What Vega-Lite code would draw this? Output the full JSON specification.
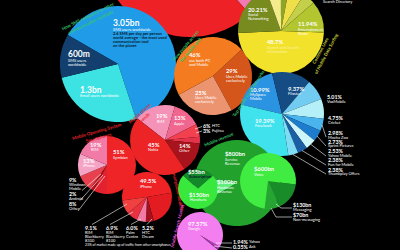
{
"$schema":"https://vega.github.io/schema/vega-lite/v6.json",
"width":400,"height":250,"padding":0,"autosize":"none","background":"#000000",
"config":{"view":{"stroke":null}},
"datasets":{
"pies":[
{"p":"top","cx":190,"cy":-52},{"p":"sms","cx":118,"cy":64},{"p":"orange","cx":213,"cy":76},{"p":"yellow","cx":281,"cy":31},
{"p":"cyan","cx":282,"cy":114},{"p":"brands","cx":165,"cy":140},{"p":"os","cx":107,"cy":165},{"p":"models","cx":147,"cy":197},
{"p":"green","cx":237,"cy":183},{"p":"small","cx":198,"cy":189},{"p":"voice","cx":268,"cy":181},{"p":"search","cx":200,"cy":235}],
"slices":[
{"p":"top","k":"top_pink","v":13.3,"o":1},{"p":"top","k":"top_red","v":86.7,"o":2},
{"p":"sms","k":"sms_sms","v":3.05,"o":1},{"p":"sms","k":"sms_email","v":1.3,"o":2},{"p":"sms","k":"sms_im","v":0.6,"o":3},
{"p":"orange","k":"or_mob","v":29,"o":1},{"p":"orange","k":"or_pc","v":25,"o":2},{"p":"orange","k":"or_both","v":46,"o":3},
{"p":"yellow","k":"ye_search","v":48.7,"o":1},{"p":"yellow","k":"ye_social","v":20.21,"o":2},{"p":"yellow","k":"ye_p1","v":5.5,"o":3},{"p":"yellow","k":"ye_p2","v":3.0,"o":4},{"p":"yellow","k":"ye_p3","v":6.0,"o":5},{"p":"yellow","k":"ye_p4","v":4.65,"o":6},{"p":"yellow","k":"ye_ent","v":11.94,"o":7},
{"p":"cyan","k":"cy_mys","v":10.99,"o":1},{"p":"cyan","k":"cy_fl","v":9.37,"o":2},{"p":"cyan","k":"cy_1","v":5.01,"o":3},{"p":"cyan","k":"cy_2","v":4.75,"o":4},{"p":"cyan","k":"cy_3","v":2.98,"o":5},{"p":"cyan","k":"cy_4","v":2.73,"o":6},{"p":"cyan","k":"cy_5","v":2.53,"o":7},{"p":"cyan","k":"cy_6","v":2.38,"o":8},{"p":"cyan","k":"cy_7","v":2.38,"o":9},{"p":"cyan","k":"cy_fb","v":19.39,"o":10},
{"p":"brands","k":"br_rim","v":19,"o":1},{"p":"brands","k":"br_apple","v":13,"o":2},{"p":"brands","k":"br_htc","v":6,"o":3},{"p":"brands","k":"br_fuj","v":3,"o":4},{"p":"brands","k":"br_oth","v":14,"o":5},{"p":"brands","k":"br_nok","v":45,"o":6},
{"p":"os","k":"os_sym","v":51,"o":1},{"p":"os","k":"os_oth","v":8,"o":2},{"p":"os","k":"os_and","v":2,"o":3},{"p":"os","k":"os_wm","v":9,"o":4},{"p":"os","k":"os_iph","v":13,"o":5},{"p":"os","k":"os_rim","v":19,"o":6},
{"p":"models","k":"md_iph","v":49.5,"o":1},{"p":"models","k":"md_oth","v":23.3,"o":2},{"p":"models","k":"md_htc","v":5.2,"o":3},{"p":"models","k":"md_palm","v":6.0,"o":4},{"p":"models","k":"md_8100","v":6.9,"o":5},{"p":"models","k":"md_8300","v":9.1,"o":6},
{"p":"green","k":"gr_hw","v":100,"o":1},{"p":"green","k":"gr_serv","v":800,"o":2},
{"p":"small","k":"sg_a","v":55,"o":1},{"p":"small","k":"sg_b","v":150,"o":2},
{"p":"voice","k":"vo_msg","v":130,"o":1},{"p":"voice","k":"vo_non","v":70,"o":2},{"p":"voice","k":"vo_voice","v":600,"o":3},
{"p":"search","k":"se_y","v":1.94,"o":1},{"p":"search","k":"se_a","v":0.35,"o":2},{"p":"search","k":"se_o","v":0.14,"o":3},{"p":"search","k":"se_g","v":97.57,"o":4}],
"labels":[
{"x":113,"y":23,"t":"3.05bn","s":"b"},{"x":113,"y":29.5,"t":"SMS users worldwide","s":"d"},
{"x":113,"y":33.7,"t":"2.6 SMS per day per person","s":"k"},{"x":113,"y":37.7,"t":"world average - the most used","s":"k"},{"x":113,"y":41.7,"t":"communication tool","s":"k"},{"x":113,"y":45.7,"t":"on the planet","s":"k"},
{"x":68,"y":53.5,"t":"600m","s":"b"},{"x":68,"y":60.5,"t":"SMS users","s":"d"},{"x":68,"y":64.5,"t":"worldwide","s":"d"},
{"x":80,"y":89.5,"t":"1.3bn","s":"b"},{"x":80,"y":96.3,"t":"Email users worldwide","s":"d"},
{"x":189,"y":55,"t":"46%","s":"n"},{"x":189,"y":60.6,"t":"use both PC","s":"d"},{"x":189,"y":64.6,"t":"and Mobile","s":"d"},
{"x":226,"y":71,"t":"29%","s":"n"},{"x":226,"y":76.6,"t":"Uses Mobile","s":"d"},{"x":226,"y":80.6,"t":"exclusively","s":"d"},
{"x":195,"y":92.5,"t":"25%","s":"n"},{"x":195,"y":98.1,"t":"Uses Mobile","s":"d"},{"x":195,"y":102.1,"t":"exclusively","s":"d"},
{"x":248,"y":9.5,"t":"20.21%","s":"n"},{"x":248,"y":15.1,"t":"Social","s":"d"},{"x":248,"y":19,"t":"Networking","s":"d"},
{"x":298,"y":24,"t":"11.94%","s":"n"},{"x":298,"y":29.6,"t":"Entertainment","s":"d"},{"x":298,"y":33.5,"t":"News","s":"d"},
{"x":267,"y":42,"t":"48.7%","s":"n"},{"x":267,"y":47.6,"t":"Search and Search","s":"y"},{"x":267,"y":51.5,"t":"Information","s":"y"},
{"x":323,"y":2,"t":"Search Directory","s":"d"},
{"x":250,"y":89.8,"t":"10.99%","s":"n"},{"x":250,"y":95.4,"t":"MySpace","s":"d"},{"x":250,"y":99.3,"t":"Mobile","s":"d"},
{"x":288,"y":88.5,"t":"9.37%","s":"n"},{"x":288,"y":94.1,"t":"Flixster","s":"d"},
{"x":255,"y":120.5,"t":"19.39%","s":"n"},{"x":255,"y":126.1,"t":"Facebook","s":"d"},
{"x":327,"y":96.5,"t":"5.01%","s":"l"},{"x":327,"y":101.6,"t":"VoxMobile","s":"d"},
{"x":328,"y":117.5,"t":"4.75%","s":"l"},{"x":328,"y":122.6,"t":"Cricket","s":"d"},
{"x":328,"y":132.6,"t":"2.98%","s":"l"},{"x":328,"y":137.5,"t":"Mocha Zoo","s":"d"},
{"x":328,"y":141.5,"t":"2.73%","s":"l"},{"x":328,"y":146.4,"t":"Sprint Pictures","s":"d"},
{"x":328,"y":151,"t":"2.53%","s":"l"},{"x":328,"y":155.9,"t":"Yahoo Mobile","s":"d"},
{"x":328,"y":160.3,"t":"2.38%","s":"l"},{"x":328,"y":165.2,"t":"Fun for Mobile","s":"d"},
{"x":328,"y":169.5,"t":"2.38%","s":"l"},{"x":328,"y":174.4,"t":"Thumbplay Offers","s":"d"},
{"x":156,"y":116.2,"t":"19%","s":"n"},{"x":157,"y":121.8,"t":"RIM","s":"d"},
{"x":174,"y":118,"t":"13%","s":"n"},{"x":174,"y":123.6,"t":"Apple","s":"d"},
{"x":203,"y":126,"t":"6%","s":"l"},{"x":212,"y":126,"t":"HTC","s":"d"},
{"x":203,"y":131,"t":"3%","s":"l"},{"x":212,"y":131,"t":"Fujitsu","s":"d"},
{"x":179,"y":145.5,"t":"14%","s":"n"},{"x":179,"y":151.1,"t":"Other","s":"d"},
{"x":148,"y":144.5,"t":"45%","s":"n"},{"x":148,"y":150.1,"t":"Nokia","s":"d"},
{"x":90,"y":144.8,"t":"19%","s":"n"},{"x":91,"y":150.4,"t":"RIM","s":"d"},
{"x":83,"y":160.8,"t":"13%","s":"n"},{"x":83,"y":166.4,"t":"iPhone","s":"d"},
{"x":113,"y":152.2,"t":"51%","s":"n"},{"x":113,"y":157.8,"t":"Symbian","s":"d"},
{"x":69,"y":179.5,"t":"9%","s":"l"},{"x":69,"y":184.6,"t":"Windows","s":"d"},{"x":69,"y":188.6,"t":"Mobile","s":"d"},
{"x":69,"y":193.8,"t":"2%","s":"l"},{"x":69,"y":198.9,"t":"Android","s":"d"},
{"x":69,"y":204,"t":"8%","s":"l"},{"x":69,"y":209.1,"t":"Other","s":"d"},
{"x":140,"y":181,"t":"49.5%","s":"n"},{"x":140,"y":186.6,"t":"iPhone","s":"d"},
{"x":85,"y":227.5,"t":"9.1%","s":"l"},{"x":85,"y":232.7,"t":"RIM","s":"d"},{"x":85,"y":236.7,"t":"Blackberry","s":"d"},{"x":85,"y":240.7,"t":"8300","s":"d"},
{"x":106,"y":227.5,"t":"6.9%","s":"l"},{"x":106,"y":232.7,"t":"RIM","s":"d"},{"x":106,"y":236.7,"t":"Blackberry","s":"d"},{"x":106,"y":240.7,"t":"8100","s":"d"},
{"x":126,"y":227.5,"t":"6.0%","s":"l"},{"x":126,"y":232.7,"t":"Palm","s":"d"},{"x":126,"y":236.7,"t":"Centro","s":"d"},
{"x":142,"y":227.5,"t":"5.2%","s":"l"},{"x":142,"y":232.7,"t":"HTC","s":"d"},{"x":142,"y":236.7,"t":"Dream","s":"d"},
{"x":85,"y":245.3,"t":"23% of market made up of traffic from other smartphones","s":"f"},
{"x":225,"y":154,"t":"$800bn","s":"n"},{"x":225,"y":159.6,"t":"Service","s":"d"},{"x":225,"y":163.5,"t":"Revenue","s":"d"},
{"x":217,"y":182,"t":"$100bn","s":"n"},{"x":217,"y":187.6,"t":"Hardware","s":"d"},{"x":217,"y":191.5,"t":"Revenue","s":"d"},
{"x":188,"y":171.5,"t":"$55bn","s":"n"},{"x":189,"y":177.1,"t":"Subscription","s":"k"},
{"x":189,"y":194.5,"t":"$150bn","s":"n"},{"x":190,"y":200.1,"t":"Handsets","s":"d"},
{"x":254,"y":169,"t":"$600bn","s":"n"},{"x":254,"y":174.6,"t":"Voice","s":"d"},
{"x":293,"y":204.5,"t":"$130bn","s":"l"},{"x":293,"y":209.6,"t":"Messaging","s":"d"},
{"x":293,"y":215,"t":"$70bn","s":"l"},{"x":293,"y":220.1,"t":"Non-messaging","s":"d"},
{"x":188,"y":223.8,"t":"97.57%","s":"n"},{"x":188,"y":229.4,"t":"Google","s":"d"},
{"x":233,"y":242.3,"t":"1.94%","s":"l"},{"x":249,"y":242.3,"t":"Yahoo","s":"d"},
{"x":233,"y":247.3,"t":"0.35%","s":"l"},{"x":249,"y":247.3,"t":"Ask","s":"d"}],
"lines":[
{"x":195,"y":129,"x2":202,"y2":126.5},{"x":196,"y":133,"x2":202,"y2":131},
{"x":82,"y":190.5,"x2":101,"y2":174},{"x":80,"y":200.5,"x2":103,"y2":175},{"x":78,"y":211,"x2":105,"y2":176},
{"x":92,"y":224.5,"x2":127,"y2":204},{"x":110,"y":224.5,"x2":133,"y2":212},{"x":131,"y":224.5,"x2":141,"y2":219},{"x":147,"y":224.5,"x2":152,"y2":219},
{"x":322,"y":125,"x2":326,"y2":137},{"x":317,"y":136,"x2":326,"y2":146},{"x":311,"y":144.5,"x2":326,"y2":156},{"x":302,"y":150.5,"x2":326,"y2":165},{"x":293,"y":154.5,"x2":326,"y2":174},
{"x":276,"y":204,"x2":281,"y2":208},{"x":281,"y":208,"x2":292,"y2":208},{"x":271,"y":208,"x2":276,"y2":217},{"x":276,"y":217,"x2":292,"y2":217},
{"x":216,"y":243,"x2":232,"y2":243},{"x":214,"y":246,"x2":232,"y2":248}]
},
"resolve":{"scale":{"theta":"independent"}},
"layer":[
{"data":{"name":"slices"},"transform":[{"filter":"datum.p==='top'"},{"lookup":"p","from":{"data":{"name":"pies"},"key":"p","fields":["cx","cy"]}}],
 "mark":{"type":"arc","radius":89},
 "encoding":{"x":{"field":"cx","type":"quantitative","scale":{"domain":[0,400],"nice":false,"zero":false},"axis":null},"y":{"field":"cy","type":"quantitative","scale":{"domain":[0,250],"nice":false,"zero":false,"reverse":true},"axis":null},
 "theta":{"field":"v","type":"quantitative","stack":true,"scale":{"range":[1.571,7.854]}},"order":{"field":"o","type":"quantitative"},
 "color":{"field":"k","type":"nominal","legend":null,"scale":{
 "domain":["top_pink","top_red","sms_sms","sms_email","sms_im","or_mob","or_pc","or_both","ye_search","ye_social","ye_p1","ye_p2","ye_p3","ye_p4","ye_ent","cy_mys","cy_fl","cy_1","cy_2","cy_3","cy_4","cy_5","cy_6","cy_7","cy_fb","br_rim","br_apple","br_htc","br_fuj","br_oth","br_nok","os_sym","os_oth","os_and","os_wm","os_iph","os_rim","md_iph","md_oth","md_htc","md_palm","md_8100","md_8300","gr_hw","gr_serv","sg_a","sg_b","vo_msg","vo_non","vo_voice","se_y","se_a","se_o","se_g"],
 "range":["#f27ab4","#ee2226","#1f9be8","#3de3e3","#123f6e","#d5561b","#ec9470","#f47b20","#f3e22b","#778b1f","#f4ec8c","#8fa526","#efe04a","#c4cf4a","#b3c62f","#2a93e2","#154c84","#72ccf2","#b5f0f8","#4ab4ec","#1e7ccf","#cdf6fb","#1a5ea6","#80dcf2","#40e2ee","#f592b7","#f0668f","#f2404f","#e5334a","#a9131c","#ec2426","#ee2427","#e2222e","#b5121e","#e9404e","#f5a3c5","#f27aa6","#ef2326","#e31c22","#a5111c","#f27ba6","#e8323f","#f04040","#62ee7e","#22a22c","#14892a","#38e83c","#188c28","#26a532","#41ec42","#b93cc0","#7a2a8a","#f27ef0","#f27ef0"]}}}},
{"data":{"name":"slices"},"transform":[{"filter":"datum.p==='sms'"},{"lookup":"p","from":{"data":{"name":"pies"},"key":"p","fields":["cx","cy"]}}],
 "mark":{"type":"arc","radius":58},
 "encoding":{"x":{"field":"cx","type":"quantitative","axis":null},"y":{"field":"cy","type":"quantitative","axis":null},
 "theta":{"field":"v","type":"quantitative","stack":true,"scale":{"range":[-1.047,5.236]}},"order":{"field":"o","type":"quantitative"},"color":{"field":"k","type":"nominal","legend":null}}},
{"data":{"name":"slices"},"transform":[{"filter":"datum.p==='orange'"},{"lookup":"p","from":{"data":{"name":"pies"},"key":"p","fields":["cx","cy"]}}],
 "mark":{"type":"arc","radius":39},
 "encoding":{"x":{"field":"cx","type":"quantitative","axis":null},"y":{"field":"cy","type":"quantitative","axis":null},
 "theta":{"field":"v","type":"quantitative","stack":true,"scale":{"range":[0.82,7.103]}},"order":{"field":"o","type":"quantitative"},"color":{"field":"k","type":"nominal","legend":null}}},
{"data":{"name":"slices"},"transform":[{"filter":"datum.p==='yellow'"},{"lookup":"p","from":{"data":{"name":"pies"},"key":"p","fields":["cx","cy"]}}],
 "mark":{"type":"arc","radius":43},
 "encoding":{"x":{"field":"cx","type":"quantitative","axis":null},"y":{"field":"cy","type":"quantitative","axis":null},
 "theta":{"field":"v","type":"quantitative","stack":true,"scale":{"range":[1.606,7.889]}},"order":{"field":"o","type":"quantitative"},"color":{"field":"k","type":"nominal","legend":null}}},
{"data":{"name":"slices"},"transform":[{"filter":"datum.p==='cyan'"},{"lookup":"p","from":{"data":{"name":"pies"},"key":"p","fields":["cx","cy"]}}],
 "mark":{"type":"arc","radius":42},
 "encoding":{"x":{"field":"cx","type":"quantitative","axis":null},"y":{"field":"cy","type":"quantitative","axis":null},
 "theta":{"field":"v","type":"quantitative","stack":true,"scale":{"range":[-1.344,4.939]}},"order":{"field":"o","type":"quantitative"},"color":{"field":"k","type":"nominal","legend":null}}},
{"data":{"name":"slices"},"transform":[{"filter":"datum.p==='brands'"},{"lookup":"p","from":{"data":{"name":"pies"},"key":"p","fields":["cx","cy"]}}],
 "mark":{"type":"arc","radius":35},
 "encoding":{"x":{"field":"cx","type":"quantitative","axis":null},"y":{"field":"cy","type":"quantitative","axis":null},
 "theta":{"field":"v","type":"quantitative","stack":true,"scale":{"range":[-0.907,5.376]}},"order":{"field":"o","type":"quantitative"},"color":{"field":"k","type":"nominal","legend":null}}},
{"data":{"name":"slices"},"transform":[{"filter":"datum.p==='os'"},{"lookup":"p","from":{"data":{"name":"pies"},"key":"p","fields":["cx","cy"]}}],
 "mark":{"type":"arc","radius":29},
 "encoding":{"x":{"field":"cx","type":"quantitative","axis":null},"y":{"field":"cy","type":"quantitative","axis":null},
 "theta":{"field":"v","type":"quantitative","stack":true,"scale":{"range":[0,6.283]}},"order":{"field":"o","type":"quantitative"},"color":{"field":"k","type":"nominal","legend":null}}},
{"data":{"name":"slices"},"transform":[{"filter":"datum.p==='models'"},{"lookup":"p","from":{"data":{"name":"pies"},"key":"p","fields":["cx","cy"]}}],
 "mark":{"type":"arc","radius":25},
 "encoding":{"x":{"field":"cx","type":"quantitative","axis":null},"y":{"field":"cy","type":"quantitative","axis":null},
 "theta":{"field":"v","type":"quantitative","stack":true,"scale":{"range":[-1.71,4.573]}},"order":{"field":"o","type":"quantitative"},"color":{"field":"k","type":"nominal","legend":null}}},
{"data":{"name":"slices"},"transform":[{"filter":"datum.p==='green'"},{"lookup":"p","from":{"data":{"name":"pies"},"key":"p","fields":["cx","cy"]}}],
 "mark":{"type":"arc","radius":43},
 "encoding":{"x":{"field":"cx","type":"quantitative","axis":null},"y":{"field":"cy","type":"quantitative","axis":null},
 "theta":{"field":"v","type":"quantitative","stack":true,"scale":{"range":[-2.094,4.189]}},"order":{"field":"o","type":"quantitative"},"color":{"field":"k","type":"nominal","legend":null}}},
{"data":{"name":"slices"},"transform":[{"filter":"datum.p==='small'"},{"lookup":"p","from":{"data":{"name":"pies"},"key":"p","fields":["cx","cy"]}}],
 "mark":{"type":"arc","radius":20},
 "encoding":{"x":{"field":"cx","type":"quantitative","axis":null},"y":{"field":"cy","type":"quantitative","axis":null},
 "theta":{"field":"v","type":"quantitative","stack":true,"scale":{"range":[-0.838,5.445]}},"order":{"field":"o","type":"quantitative"},"color":{"field":"k","type":"nominal","legend":null}}},
{"data":{"name":"slices"},"transform":[{"filter":"datum.p==='voice'"},{"lookup":"p","from":{"data":{"name":"pies"},"key":"p","fields":["cx","cy"]}}],
 "mark":{"type":"arc","radius":28},
 "encoding":{"x":{"field":"cx","type":"quantitative","axis":null},"y":{"field":"cy","type":"quantitative","axis":null},
 "theta":{"field":"v","type":"quantitative","stack":true,"scale":{"range":[1.693,7.976]}},"order":{"field":"o","type":"quantitative"},"color":{"field":"k","type":"nominal","legend":null}}},
{"data":{"name":"slices"},"transform":[{"filter":"datum.p==='search'"},{"lookup":"p","from":{"data":{"name":"pies"},"key":"p","fields":["cx","cy"]}}],
 "mark":{"type":"arc","radius":23},
 "encoding":{"x":{"field":"cx","type":"quantitative","axis":null},"y":{"field":"cy","type":"quantitative","axis":null},
 "theta":{"field":"v","type":"quantitative","stack":true,"scale":{"range":[2.112,8.395]}},"order":{"field":"o","type":"quantitative"},"color":{"field":"k","type":"nominal","legend":null}}},
{"data":{"name":"lines"},"mark":{"type":"rule","color":"#ffffff","strokeWidth":0.6},
 "encoding":{"x":{"field":"x","type":"quantitative","axis":null},"y":{"field":"y","type":"quantitative","axis":null},"x2":{"field":"x2"},"y2":{"field":"y2"}}},
{"data":{"name":"labels"},"transform":[{"filter":"datum.s==='b'"}],"mark":{"type":"text","align":"left","baseline":"middle","font":"Lato","fontWeight":"bold","fontSize":8.5,"color":"#ffffff"},
 "encoding":{"x":{"field":"x","type":"quantitative","axis":null},"y":{"field":"y","type":"quantitative","axis":null},"text":{"field":"t"}}},
{"data":{"name":"labels"},"transform":[{"filter":"datum.s==='n'"}],"mark":{"type":"text","align":"left","baseline":"middle","font":"Lato","fontWeight":"bold","fontSize":5.8,"color":"#ffffff"},
 "encoding":{"x":{"field":"x","type":"quantitative","axis":null},"y":{"field":"y","type":"quantitative","axis":null},"text":{"field":"t"}}},
{"data":{"name":"labels"},"transform":[{"filter":"datum.s==='l'"}],"mark":{"type":"text","align":"left","baseline":"middle","font":"Lato","fontWeight":"bold","fontSize":5.3,"color":"#ffffff"},
 "encoding":{"x":{"field":"x","type":"quantitative","axis":null},"y":{"field":"y","type":"quantitative","axis":null},"text":{"field":"t"}}},
{"data":{"name":"labels"},"transform":[{"filter":"datum.s==='d'"}],"mark":{"type":"text","align":"left","baseline":"middle","font":"Lato","fontSize":4,"color":"#ffffff"},
 "encoding":{"x":{"field":"x","type":"quantitative","axis":null},"y":{"field":"y","type":"quantitative","axis":null},"text":{"field":"t"}}},
{"data":{"name":"labels"},"transform":[{"filter":"datum.s==='f'"}],"mark":{"type":"text","align":"left","baseline":"middle","font":"Lato","fontSize":3.4,"color":"#ffffff"},
 "encoding":{"x":{"field":"x","type":"quantitative","axis":null},"y":{"field":"y","type":"quantitative","axis":null},"text":{"field":"t"}}},
{"data":{"name":"labels"},"transform":[{"filter":"datum.s==='k'"}],"mark":{"type":"text","align":"left","baseline":"middle","font":"Lato","fontWeight":"bold","fontSize":4,"color":"#0a1a2a"},
 "encoding":{"x":{"field":"x","type":"quantitative","axis":null},"y":{"field":"y","type":"quantitative","axis":null},"text":{"field":"t"}}},
{"data":{"name":"labels"},"transform":[{"filter":"datum.s==='y'"}],"mark":{"type":"text","align":"left","baseline":"middle","font":"Lato","fontSize":4,"color":"#fbf3a6"},
 "encoding":{"x":{"field":"x","type":"quantitative","axis":null},"y":{"field":"y","type":"quantitative","axis":null},"text":{"field":"t"}}},
{"data":{"values":[{"x":88,"y":17,"t":"How SMS compares to other|communication methods"}]},"mark":{"type":"text","angle":-26,"lineBreak":"|","font":"Lato","fontWeight":"bold","fontSize":4.5,"color":"#36c46c"},
 "encoding":{"x":{"field":"x","type":"quantitative","axis":null},"y":{"field":"y","type":"quantitative","axis":null},"text":{"field":"t"}}},
{"data":{"values":[{"x":186,"y":46,"t":"How people access|the mobile web"}]},"mark":{"type":"text","angle":-50,"lineBreak":"|","font":"Lato","fontWeight":"bold","fontSize":4.5,"color":"#36c46c"},
 "encoding":{"x":{"field":"x","type":"quantitative","axis":null},"y":{"field":"y","type":"quantitative","axis":null},"text":{"field":"t"}}},
{"data":{"values":[{"x":249,"y":94,"t":"Top mobile social networks"}]},"mark":{"type":"text","angle":-57,"font":"Lato","fontWeight":"bold","fontSize":4.5,"color":"#36c46c"},
 "encoding":{"x":{"field":"x","type":"quantitative","axis":null},"y":{"field":"y","type":"quantitative","axis":null},"text":{"field":"t"}}},
{"data":{"values":[{"x":321,"y":51,"t":"Common Uses|of Mobile Data Surfing"}]},"mark":{"type":"text","angle":-62,"lineBreak":"|","font":"Lato","fontWeight":"bold","fontSize":4.5,"color":"#c9cf3a"},
 "encoding":{"x":{"field":"x","type":"quantitative","axis":null},"y":{"field":"y","type":"quantitative","axis":null},"text":{"field":"t"}}},
{"data":{"values":[{"x":140,"y":114,"t":"Mobile phone|brands"}]},"mark":{"type":"text","angle":-42,"lineBreak":"|","font":"Lato","fontWeight":"bold","fontSize":4.5,"color":"#e8252a"},
 "encoding":{"x":{"field":"x","type":"quantitative","axis":null},"y":{"field":"y","type":"quantitative","axis":null},"text":{"field":"t"}}},
{"data":{"values":[{"x":97,"y":132,"t":"Mobile Operating System|Smartphones"}]},"mark":{"type":"text","angle":-16,"lineBreak":"|","font":"Lato","fontWeight":"bold","fontSize":4.5,"color":"#e8252a"},
 "encoding":{"x":{"field":"x","type":"quantitative","axis":null},"y":{"field":"y","type":"quantitative","axis":null},"text":{"field":"t"}}},
{"data":{"values":[{"x":177,"y":190,"t":"Smartphone models"}]},"mark":{"type":"text","angle":78,"font":"Lato","fontWeight":"bold","fontSize":4.5,"color":"#e8252a"},
 "encoding":{"x":{"field":"x","type":"quantitative","axis":null},"y":{"field":"y","type":"quantitative","axis":null},"text":{"field":"t"}}},
{"data":{"values":[{"x":219,"y":140,"t":"Mobile revenue"}]},"mark":{"type":"text","angle":-22,"font":"Lato","fontWeight":"bold","fontSize":4.5,"color":"#36c46c"},
 "encoding":{"x":{"field":"x","type":"quantitative","axis":null},"y":{"field":"y","type":"quantitative","axis":null},"text":{"field":"t"}}},
{"data":{"values":[{"x":178,"y":226,"t":"Mobile Search Market"}]},"mark":{"type":"text","angle":-76,"font":"Lato","fontWeight":"bold","fontSize":4.5,"color":"#e455d8"},
 "encoding":{"x":{"field":"x","type":"quantitative","axis":null},"y":{"field":"y","type":"quantitative","axis":null},"text":{"field":"t"}}}
]
}
